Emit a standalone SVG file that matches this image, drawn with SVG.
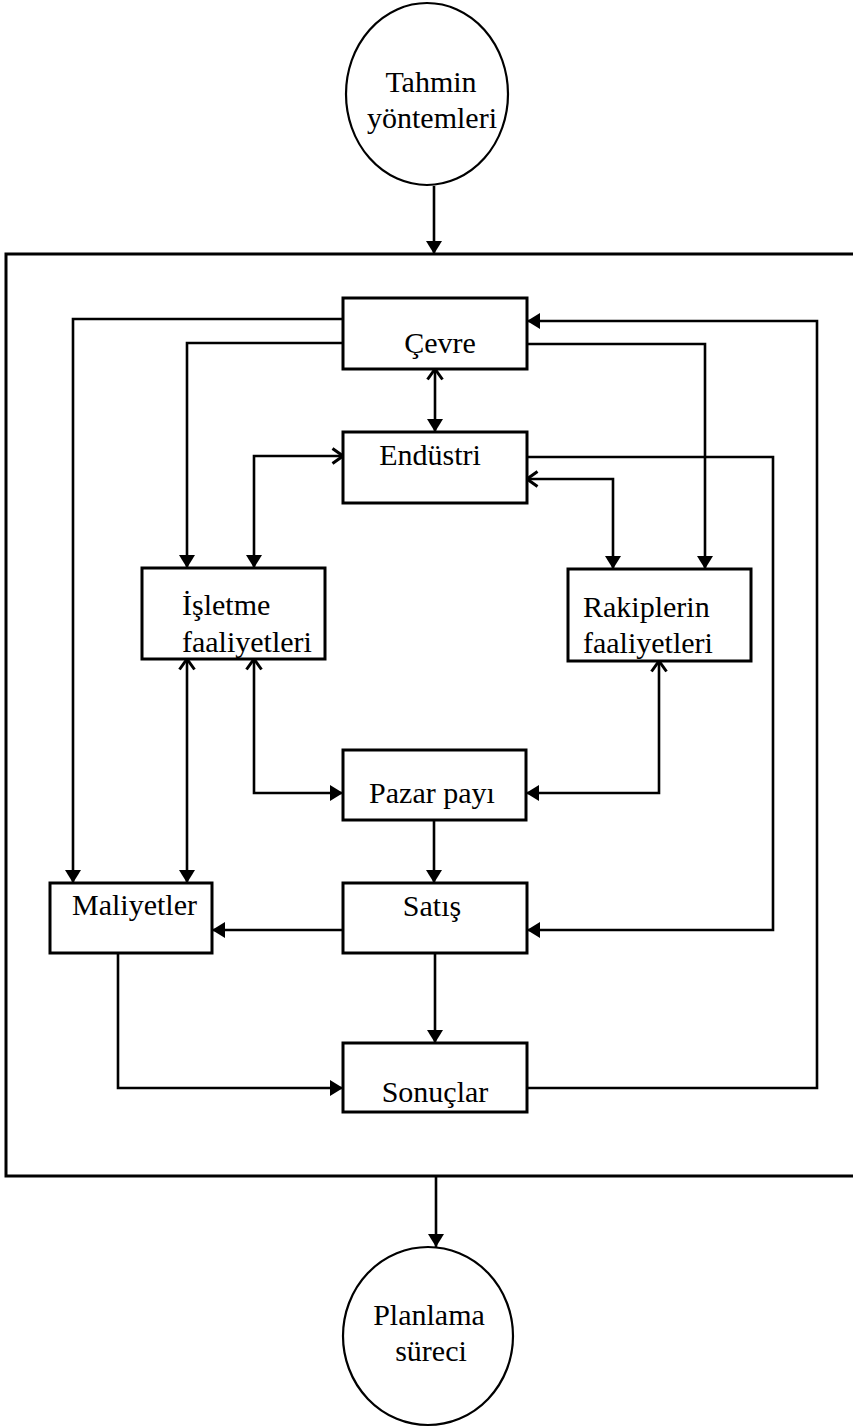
<svg xmlns="http://www.w3.org/2000/svg" width="853" height="1427" viewBox="0 0 853 1427">
  <style>
    .box { fill: #fff; stroke: #000; stroke-width: 3; }
    .circ { fill: #fff; stroke: #000; stroke-width: 2.2; }
    .lbl { font-family: "Liberation Serif", "Times New Roman", serif; font-size: 30px; fill: #000; }
    .mid { text-anchor: middle; }
    .wire { fill: none; stroke: #000; stroke-width: 2.6; stroke-linejoin: miter; }
    .frame { fill: none; stroke: #000; stroke-width: 3; }
  </style>
  <defs>
    <!-- solid head used at the receiving end of every connector -->
    <marker id="solid" viewBox="0 0 13 16" refX="13" refY="8" markerWidth="13" markerHeight="16" markerUnits="userSpaceOnUse" orient="auto">
      <path d="M0 0 L13 8 L0 16 Z" fill="#000"/>
    </marker>
    <!-- open chevron head for the second end of two-way links -->
    <marker id="open" viewBox="0 0 14 18" refX="12" refY="9" markerWidth="14" markerHeight="18" markerUnits="userSpaceOnUse" orient="auto-start-reverse">
      <path d="M1.5 1.5 L12 9 L1.5 16.5" fill="none" stroke="#000" stroke-width="3"/>
    </marker>
  </defs>

  <rect width="853" height="1427" fill="#fff"/>

  <!-- enclosing frame (open on the right edge) -->
  <path class="frame" d="M860 254 H6 V1176 H860"/>

  <g id="connectors">
    <path class="wire" d="M434 186 V254" marker-end="url(#solid)"/>
    <path class="wire" d="M436 1176 V1247" marker-end="url(#solid)"/>
    <path class="wire" d="M435 369 V432" marker-start="url(#open)" marker-end="url(#solid)"/>
    <path class="wire" d="M343 319 H73 V883" marker-end="url(#solid)"/>
    <path class="wire" d="M343 343 H187 V568" marker-end="url(#solid)"/>
    <path class="wire" d="M343 456 H254 V568" marker-start="url(#open)" marker-end="url(#solid)"/>
    <path class="wire" d="M527 1088 H817 V321 H527" marker-end="url(#solid)"/>
    <path class="wire" d="M527 344 H705 V569" marker-end="url(#solid)"/>
    <path class="wire" d="M527 457 H773 V930 H527" marker-end="url(#solid)"/>
    <path class="wire" d="M527 479 H613 V569" marker-start="url(#open)" marker-end="url(#solid)"/>
    <path class="wire" d="M254 659 V793 H343" marker-start="url(#open)" marker-end="url(#solid)"/>
    <path class="wire" d="M659 661 V793 H526" marker-start="url(#open)" marker-end="url(#solid)"/>
    <path class="wire" d="M187 659 V883" marker-start="url(#open)" marker-end="url(#solid)"/>
    <path class="wire" d="M434 820 V883" marker-end="url(#solid)"/>
    <path class="wire" d="M343 930 H212" marker-end="url(#solid)"/>
    <path class="wire" d="M435 953 V1043" marker-end="url(#solid)"/>
    <path class="wire" d="M118 953 V1088 H343" marker-end="url(#solid)"/>
  </g>

  <g id="tahmin">
    <ellipse class="circ" cx="427" cy="94" rx="81" ry="91"/>
    <text class="lbl mid" x="431" y="92">Tahmin</text>
    <text class="lbl mid" x="432" y="128">yöntemleri</text>
  </g>

  <g id="cevre">
    <rect class="box" x="343" y="298" width="184" height="71"/>
    <text class="lbl mid" x="440" y="353">Çevre</text>
  </g>

  <g id="endustri">
    <rect class="box" x="343" y="432" width="184" height="71"/>
    <text class="lbl mid" x="430" y="465">Endüstri</text>
  </g>

  <g id="isletme">
    <rect class="box" x="142" y="568" width="183" height="91"/>
    <text class="lbl" x="182" y="615">İşletme</text>
    <text class="lbl" x="182" y="652">faaliyetleri</text>
  </g>

  <g id="rakipler">
    <rect class="box" x="568" y="569" width="183" height="92"/>
    <text class="lbl" x="583" y="617">Rakiplerin</text>
    <text class="lbl" x="583" y="653">faaliyetleri</text>
  </g>

  <g id="pazar">
    <rect class="box" x="343" y="750" width="183" height="70"/>
    <text class="lbl mid" x="432" y="803">Pazar payı</text>
  </g>

  <g id="maliyetler">
    <rect class="box" x="50" y="883" width="162" height="70"/>
    <text class="lbl" x="72" y="915">Maliyetler</text>
  </g>

  <g id="satis">
    <rect class="box" x="343" y="883" width="184" height="70"/>
    <text class="lbl mid" x="432" y="916">Satış</text>
  </g>

  <g id="sonuclar">
    <rect class="box" x="343" y="1043" width="184" height="69"/>
    <text class="lbl mid" x="435" y="1102">Sonuçlar</text>
  </g>

  <g id="planlama">
    <ellipse class="circ" cx="428" cy="1336" rx="85" ry="89"/>
    <text class="lbl mid" x="429" y="1325">Planlama</text>
    <text class="lbl mid" x="431" y="1361">süreci</text>
  </g>
</svg>
